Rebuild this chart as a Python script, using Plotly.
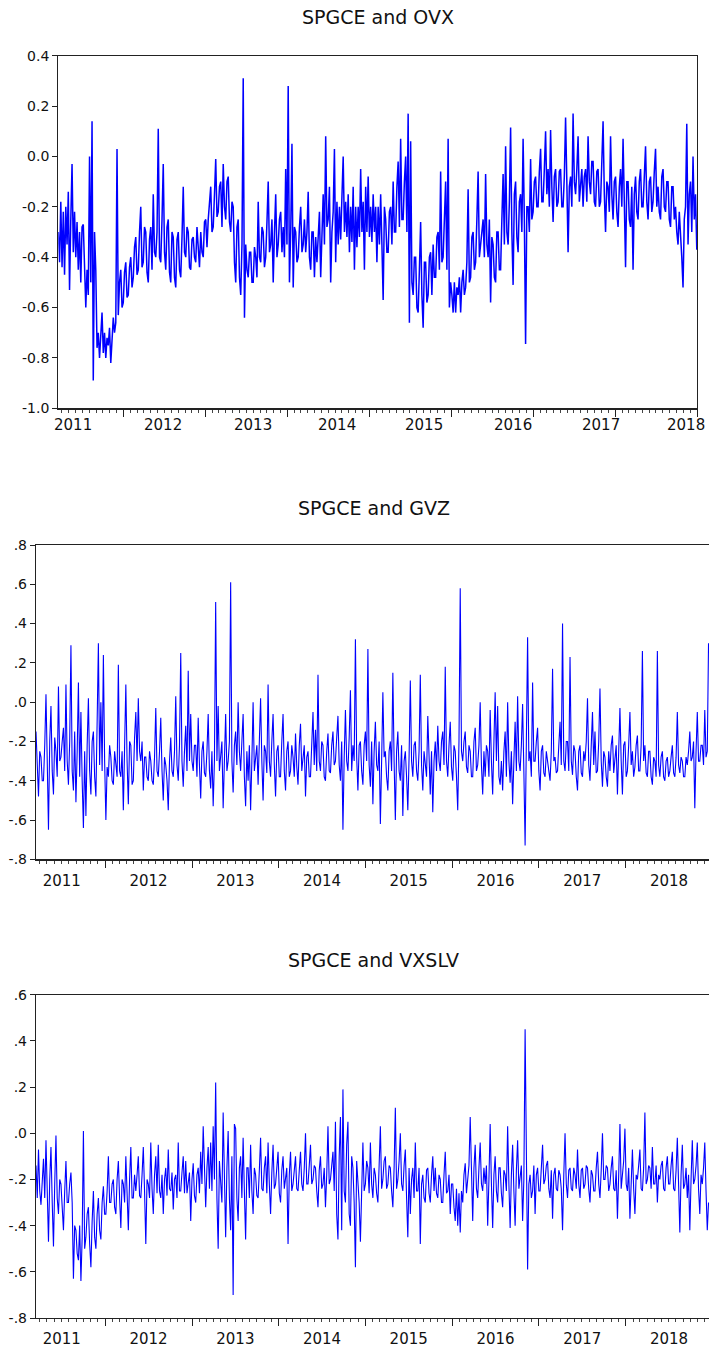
import pandas as pd
import plotly.graph_objects as go

# ---------------- data ----------------
START_DATE = "2011-03-16"
END_DATE_OVX = "2018-12-31"
END_DATE_GVZ_VXSLV = "2018-12-16"

OVX_VALUES = [
    -0.30, -0.42, -0.18, -0.44, -0.22, -0.47, -0.20, -0.35, -0.14, -0.53, -0.25, -0.03, -0.38, -0.22, -0.40, -0.26, -0.45, -0.30, -0.50, -0.28,
    -0.27, -0.48, -0.60, -0.45, -0.55, 0.00, -0.50, 0.14, -0.89, -0.30, -0.45, -0.76, -0.70, -0.80, -0.72, -0.62, -0.78, -0.70, -0.80, -0.72,
    -0.75, -0.68, -0.82, -0.72, -0.64, -0.70, -0.66, 0.03, -0.63, -0.50, -0.45, -0.60, -0.58, -0.46, -0.42, -0.56, -0.55, -0.44, -0.40, -0.52,
    -0.48, -0.36, -0.32, -0.47, -0.45, -0.30, -0.20, -0.44, -0.42, -0.28, -0.30, -0.46, -0.50, -0.33, -0.28, -0.45, -0.15, -0.38, -0.40, -0.30,
    0.11, -0.40, -0.42, -0.25, -0.03, -0.38, -0.45, -0.28, -0.25, -0.46, -0.50, -0.30, -0.32, -0.48, -0.52, -0.33, -0.30, -0.45, -0.48, -0.32,
    -0.12, -0.38, -0.40, -0.28, -0.30, -0.44, -0.45, -0.33, -0.32, -0.40, -0.42, -0.28, -0.35, -0.44, -0.30, -0.38, -0.40, -0.26, -0.25, -0.36,
    -0.25, -0.18, -0.12, -0.30, -0.28, -0.15, -0.01, -0.24, -0.22, -0.12, -0.10, -0.28, -0.03, -0.20, -0.25, -0.10, -0.08, -0.26, -0.30, -0.18,
    -0.20, -0.42, -0.50, -0.28, -0.25, -0.48, -0.55, -0.35, 0.31, -0.64, -0.35, -0.45, -0.48, -0.38, -0.38, -0.50, -0.50, -0.36, -0.40, -0.48,
    -0.18, -0.40, -0.42, -0.28, -0.30, -0.44, -0.40, -0.26, -0.10, -0.38, -0.35, -0.25, -0.50, -0.30, -0.15, -0.40, -0.35, -0.25, -0.22, -0.38,
    -0.28, -0.40, -0.05, -0.35, 0.28, -0.50, -0.30, 0.05, -0.52, -0.28, -0.30, -0.42, -0.40, -0.28, -0.20, -0.38, -0.35, -0.25, -0.38, -0.30,
    -0.14, -0.40, -0.45, -0.30, -0.30, -0.48, -0.32, -0.42, -0.32, -0.22, -0.48, -0.30, -0.15, -0.35, 0.08, -0.28, -0.25, -0.12, -0.50, -0.30,
    -0.22, 0.03, -0.42, -0.18, -0.35, -0.20, -0.33, -0.16, 0.00, -0.30, -0.18, -0.32, -0.15, -0.38, -0.20, -0.34, -0.12, -0.45, -0.20, -0.36,
    -0.20, -0.32, -0.05, -0.30, -0.18, -0.45, -0.12, -0.30, -0.08, -0.32, -0.20, -0.34, -0.15, -0.30, -0.20, -0.42, -0.20, -0.35, -0.15, -0.35,
    -0.57, -0.20, -0.25, -0.38, -0.38, -0.22, -0.20, -0.35, -0.10, -0.30, -0.30, -0.12, -0.02, -0.28, 0.07, -0.25, -0.25, -0.10, 0.00, -0.30,
    0.17, -0.66, 0.06, -0.50, -0.55, -0.40, -0.40, -0.60, -0.62, -0.45, -0.26, -0.55, -0.68, -0.42, -0.42, -0.58, -0.55, -0.40, -0.38, -0.55,
    -0.35, -0.48, -0.48, -0.32, -0.30, -0.45, -0.06, -0.42, -0.40, -0.25, -0.10, -0.45, 0.07, -0.60, -0.50, -0.55, -0.62, -0.50, -0.62, -0.52,
    -0.55, -0.48, -0.62, -0.50, -0.45, -0.55, -0.52, -0.42, -0.13, -0.50, -0.48, -0.32, -0.30, -0.45, -0.42, -0.25, -0.06, -0.40, -0.35, -0.28,
    -0.25, -0.40, -0.07, -0.35, -0.40, -0.25, -0.58, -0.32, -0.35, -0.48, -0.50, -0.30, -0.30, -0.45, -0.45, -0.25, -0.07, -0.35, 0.04, -0.30,
    -0.35, -0.18, 0.115, -0.30, -0.51, -0.15, -0.10, -0.32, -0.38, -0.18, -0.15, -0.30, 0.07, -0.25, -0.745, -0.20, -0.20, -0.30, -0.01, -0.25,
    -0.22, -0.10, -0.08, -0.20, -0.20, -0.06, 0.03, -0.18, -0.18, -0.05, 0.10, -0.15, -0.05, -0.20, 0.105, -0.12, -0.26, -0.08, -0.05, -0.20,
    -0.18, -0.06, -0.05, -0.20, -0.20, -0.08, 0.155, -0.10, -0.38, -0.12, -0.08, -0.20, 0.17, -0.10, -0.15, -0.05, 0.08, -0.18, -0.12, -0.05,
    -0.20, -0.08, -0.05, -0.18, 0.08, -0.10, -0.15, -0.02, -0.02, -0.18, -0.20, -0.06, -0.05, -0.20, -0.18, -0.05, 0.14, -0.15, -0.30, -0.10,
    -0.12, -0.22, 0.08, -0.15, -0.25, -0.10, -0.08, -0.22, -0.28, -0.12, -0.05, -0.20, 0.07, -0.18, -0.44, -0.10, -0.10, -0.25, -0.28, -0.12,
    -0.45, -0.15, -0.08, -0.22, -0.25, -0.10, -0.05, -0.20, -0.20, -0.08, 0.04, -0.18, -0.25, -0.10, -0.08, -0.22, -0.18, -0.06, 0.03, -0.20,
    -0.12, -0.22, -0.25, -0.08, -0.05, -0.20, -0.22, -0.10, -0.10, -0.25, -0.28, -0.12, -0.12, -0.25, -0.20, -0.30, -0.35, -0.22, -0.30, -0.40,
    -0.52, -0.25, -0.20, 0.13, -0.35, -0.15, -0.10, -0.30, 0.00, -0.25, -0.15, -0.37,
]

GVZ_VALUES = [
    -0.15, -0.30, -0.48, -0.25, -0.28, -0.40, -0.40, -0.22, 0.04, -0.30, -0.65, -0.20, -0.02, -0.35, -0.47, -0.18, -0.25, -0.38, 0.08, -0.30,
    -0.28, -0.20, -0.13, -0.35, 0.09, -0.30, -0.42, -0.20, 0.29, -0.35, -0.45, -0.15, -0.51, -0.25, 0.10, -0.38, -0.05, -0.40, -0.64, -0.25,
    -0.58, -0.22, 0.02, -0.35, -0.47, -0.20, -0.15, -0.38, -0.48, -0.10, 0.30, -0.32, 0.00, -0.35, 0.24, -0.30, -0.60, -0.33, -0.38, -0.22,
    -0.28, -0.40, -0.42, -0.25, -0.30, -0.38, 0.19, -0.35, -0.38, -0.25, -0.55, -0.28, 0.09, -0.30, -0.52, -0.20, -0.22, -0.42, -0.40, -0.18,
    -0.05, -0.30, 0.02, -0.25, -0.30, -0.20, -0.45, -0.28, -0.28, -0.38, -0.40, -0.25, -0.30, -0.40, -0.42, -0.28, -0.03, -0.35, -0.38, -0.25,
    -0.08, -0.35, -0.50, -0.28, -0.32, -0.40, -0.55, -0.30, -0.18, -0.35, -0.38, -0.25, 0.03, -0.32, -0.40, -0.22, 0.25, -0.30, -0.43, -0.25,
    -0.12, -0.35, 0.16, -0.30, -0.06, -0.30, -0.35, -0.22, -0.22, -0.38, -0.08, -0.32, -0.49, -0.25, -0.20, -0.36, -0.38, -0.25, -0.06, -0.35,
    -0.44, -0.25, -0.53, -0.30, 0.51, -0.30, -0.02, -0.35, -0.28, -0.20, -0.54, -0.25, -0.06, -0.35, -0.30, -0.20, 0.61, -0.30, -0.46, -0.22,
    -0.15, -0.32, 0.00, -0.25, -0.35, -0.20, -0.06, -0.38, -0.53, -0.25, -0.40, -0.22, -0.55, -0.30, 0.00, -0.35, -0.30, -0.22, -0.42, -0.25,
    0.02, -0.30, -0.50, -0.22, -0.25, -0.36, 0.09, -0.30, -0.38, -0.20, -0.06, -0.32, -0.48, -0.25, -0.22, -0.38, -0.38, -0.20, -0.06, -0.35,
    -0.45, -0.25, -0.20, -0.38, -0.35, -0.22, -0.28, -0.38, -0.16, -0.33, -0.42, -0.22, -0.11, -0.35, -0.30, -0.22, -0.48, -0.28, -0.25, -0.38,
    -0.38, -0.22, -0.05, -0.32, -0.14, -0.35, 0.14, -0.30, -0.35, -0.20, -0.22, -0.38, -0.40, -0.25, -0.16, -0.35, -0.36, -0.22, -0.15, -0.32,
    -0.30, -0.18, -0.07, -0.32, -0.40, -0.20, -0.65, -0.28, -0.04, -0.30, -0.35, -0.18, 0.06, -0.35, -0.22, -0.30, 0.32, -0.28, -0.45, -0.22,
    -0.20, -0.35, -0.42, -0.22, -0.15, -0.30, 0.27, -0.32, -0.43, -0.20, -0.52, -0.25, -0.10, -0.32, -0.35, -0.20, -0.62, -0.30, 0.05, -0.28,
    -0.25, -0.38, -0.45, -0.25, -0.20, -0.35, 0.15, -0.30, -0.60, -0.25, -0.15, -0.35, -0.40, -0.22, -0.58, -0.30, -0.25, -0.38, -0.55, -0.28,
    0.11, -0.30, -0.38, -0.22, -0.20, -0.35, -0.40, -0.25, 0.14, -0.32, -0.45, -0.25, -0.30, -0.38, -0.07, -0.30, -0.47, -0.25, -0.56, -0.30,
    -0.20, -0.35, -0.12, -0.30, -0.35, -0.20, -0.15, -0.32, 0.18, -0.30, -0.38, -0.22, -0.10, -0.33, -0.40, -0.22, -0.25, -0.38, -0.55, -0.20,
    0.58, -0.25, -0.30, -0.20, -0.15, -0.33, -0.36, -0.22, -0.25, -0.38, -0.38, -0.20, -0.13, -0.35, -0.32, -0.22, 0.00, -0.32, -0.47, -0.25,
    -0.38, -0.22, -0.25, -0.38, -0.04, -0.30, -0.47, -0.20, 0.05, -0.30, -0.02, -0.38, -0.42, -0.30, -0.45, -0.25, -0.15, -0.38, 0.00, -0.30,
    -0.41, -0.25, -0.52, -0.30, -0.10, -0.35, 0.03, -0.30, -0.35, -0.22, -0.01, -0.35, -0.73, -0.20, 0.33, -0.30, -0.25, -0.38, 0.10, -0.30,
    -0.30, -0.20, -0.13, -0.35, -0.45, -0.25, -0.22, -0.36, -0.38, -0.25, -0.30, -0.38, -0.40, -0.25, 0.17, -0.30, -0.28, -0.36, -0.35, -0.22,
    -0.10, -0.32, 0.40, -0.30, -0.35, -0.20, -0.20, -0.35, 0.23, -0.30, -0.37, -0.22, -0.25, -0.38, -0.45, -0.25, -0.22, -0.36, -0.38, -0.25,
    -0.30, -0.20, 0.02, -0.32, -0.40, -0.22, -0.05, -0.32, -0.15, -0.36, -0.35, -0.20, 0.07, -0.30, -0.43, -0.25, -0.28, -0.38, -0.43, -0.25,
    -0.35, -0.22, -0.17, -0.36, -0.30, -0.22, -0.47, -0.25, -0.03, -0.30, -0.47, -0.22, -0.20, -0.38, -0.35, -0.22, -0.05, -0.32, -0.25, -0.38,
    -0.33, -0.22, -0.17, -0.35, -0.35, -0.22, 0.26, -0.30, -0.22, -0.36, -0.38, -0.25, -0.25, -0.38, -0.42, -0.28, -0.30, -0.38, 0.26, -0.32,
    -0.38, -0.28, -0.25, -0.38, -0.40, -0.30, -0.28, -0.38, -0.35, -0.28, -0.22, -0.36, -0.38, -0.28, -0.05, -0.32, -0.36, -0.28, -0.30, -0.38,
    -0.38, -0.28, -0.32, -0.25, -0.15, -0.30, -0.28, -0.20, -0.54, -0.25, -0.05, -0.30, -0.30, -0.22, -0.22, -0.32, -0.04, -0.28, -0.25, 0.30,
]

VXSLV_VALUES = [
    -0.14, -0.28, -0.07, -0.25, -0.31, -0.18, -0.11, -0.28, -0.03, -0.25, -0.47, -0.20, -0.06, -0.30, -0.49, -0.22, -0.01, -0.28, -0.35, -0.20,
    -0.22, -0.32, -0.42, -0.25, -0.12, -0.30, -0.30, -0.22, -0.17, -0.30, -0.63, -0.40, -0.42, -0.52, -0.55, -0.40, -0.64, -0.45, 0.01, -0.50,
    -0.45, -0.35, -0.32, -0.48, -0.58, -0.38, -0.25, -0.45, -0.50, -0.35, -0.28, -0.42, -0.46, -0.30, -0.23, -0.35, -0.35, -0.25, -0.10, -0.30,
    -0.30, -0.22, -0.20, -0.32, -0.35, -0.20, -0.12, -0.28, -0.41, -0.20, -0.22, -0.30, -0.10, -0.26, -0.42, -0.20, -0.06, -0.28, -0.28, -0.18,
    -0.25, -0.18, -0.10, -0.27, -0.28, -0.18, -0.06, -0.25, -0.48, -0.20, -0.22, -0.28, -0.04, -0.24, -0.35, -0.18, -0.10, -0.26, -0.05, -0.25,
    -0.28, -0.18, -0.35, -0.20, -0.15, -0.27, -0.07, -0.24, -0.25, -0.17, -0.33, -0.20, -0.18, -0.28, -0.04, -0.25, -0.25, -0.17, -0.10, -0.26,
    -0.12, -0.26, -0.22, -0.17, -0.38, -0.20, -0.13, -0.27, -0.30, -0.18, -0.15, -0.26, -0.08, -0.22, 0.03, -0.20, -0.32, -0.15, -0.06, -0.24,
    -0.04, -0.25, 0.03, -0.20, 0.22, -0.28, -0.50, -0.12, -0.20, -0.30, 0.09, -0.25, -0.45, -0.15, 0.01, -0.28, -0.42, -0.10, -0.70, 0.04,
    0.02, -0.28, -0.38, -0.15, -0.10, -0.28, -0.02, -0.25, -0.46, -0.15, -0.15, -0.28, -0.05, -0.25, -0.35, -0.15, -0.18, -0.27, -0.28, -0.16,
    -0.02, -0.24, -0.25, -0.15, -0.10, -0.26, -0.04, -0.22, -0.35, -0.17, -0.05, -0.24, -0.22, -0.15, -0.08, -0.26, -0.30, -0.16, -0.10, -0.24,
    -0.20, -0.15, -0.48, -0.18, -0.08, -0.25, -0.22, -0.15, -0.10, -0.24, -0.25, -0.16, -0.08, -0.22, -0.25, -0.15, 0.00, -0.22, -0.22, -0.14,
    -0.05, -0.22, -0.20, -0.14, -0.15, -0.25, -0.32, -0.16, -0.10, -0.24, -0.22, -0.15, -0.32, -0.18, 0.03, -0.22, -0.20, -0.14, -0.08, -0.25,
    0.05, -0.35, -0.46, -0.10, 0.07, -0.42, 0.19, -0.25, -0.30, -0.05, 0.05, -0.35, -0.40, -0.10, -0.15, -0.30, -0.58, -0.12, -0.20, -0.30,
    -0.47, -0.18, -0.04, -0.25, -0.22, -0.12, -0.15, -0.26, -0.04, -0.22, -0.28, -0.15, -0.18, -0.26, -0.30, -0.14, 0.03, -0.24, -0.20, -0.12,
    -0.10, -0.24, -0.22, -0.14, -0.15, -0.25, -0.32, -0.15, 0.11, -0.24, -0.20, -0.12, 0.00, -0.22, -0.25, -0.14, -0.07, -0.28, -0.45, -0.15,
    -0.35, -0.20, -0.15, -0.28, -0.04, -0.25, -0.25, -0.15, -0.48, -0.22, -0.18, -0.28, -0.30, -0.16, -0.15, -0.26, -0.30, -0.18, -0.10, -0.25,
    -0.15, -0.26, -0.28, -0.18, -0.20, -0.30, -0.30, -0.18, -0.08, -0.26, -0.25, -0.18, -0.35, -0.22, -0.22, -0.32, -0.38, -0.24, -0.40, -0.26,
    -0.43, -0.25, -0.30, -0.18, -0.13, -0.26, -0.20, -0.14, 0.07, -0.22, -0.38, -0.15, -0.05, -0.24, -0.28, -0.15, -0.04, -0.22, -0.25, -0.15,
    -0.22, -0.14, -0.40, -0.20, 0.04, -0.22, -0.41, -0.18, -0.10, -0.25, -0.30, -0.15, -0.15, -0.26, -0.32, -0.16, -0.18, -0.25, 0.03, -0.22,
    -0.41, -0.18, -0.05, -0.25, -0.40, -0.16, -0.03, -0.24, -0.20, -0.14, -0.38, -0.20, 0.45, -0.10, -0.59, -0.22, -0.18, -0.28, -0.25, -0.14,
    -0.35, -0.18, -0.15, -0.25, -0.25, -0.15, -0.05, -0.22, -0.20, -0.14, -0.12, -0.24, -0.28, -0.16, -0.37, -0.18, -0.15, -0.24, -0.25, -0.16,
    -0.18, -0.24, -0.42, -0.18, 0.00, -0.22, -0.28, -0.16, -0.15, -0.24, -0.25, -0.15, -0.18, -0.24, -0.07, -0.22, -0.28, -0.16, -0.15, -0.24,
    -0.22, -0.14, -0.15, -0.24, -0.30, -0.16, -0.18, -0.25, -0.25, -0.15, -0.08, -0.22, -0.28, -0.16, 0.00, -0.20, -0.20, -0.14, -0.15, -0.25,
    -0.22, -0.15, -0.10, -0.24, -0.25, -0.16, -0.37, -0.18, 0.04, -0.24, -0.18, -0.12, 0.02, -0.22, -0.25, -0.15, -0.37, -0.18, -0.07, -0.24,
    -0.35, -0.18, -0.20, -0.14, -0.07, -0.24, -0.25, -0.15, 0.09, -0.22, -0.20, -0.14, -0.15, -0.24, -0.06, -0.22, -0.22, -0.14, -0.30, -0.18,
    -0.20, -0.14, -0.12, -0.24, -0.25, -0.15, -0.10, -0.22, -0.22, -0.14, -0.08, -0.24, -0.25, -0.16, -0.02, -0.22, -0.43, -0.18, -0.05, -0.24,
    -0.22, -0.15, -0.28, -0.18, -0.42, -0.20, -0.03, -0.22, -0.20, -0.14, -0.04, -0.24, -0.35, -0.18, -0.22, -0.15, -0.04, -0.25, -0.42, -0.30,
]

TITLES = ["SPGCE and OVX", "SPGCE and GVZ", "SPGCE and VXSLV"]
YEAR_LABELS = ["2011", "2012", "2013", "2014", "2015", "2016", "2017", "2018"]

Y1_TICKVALS = [0.4, 0.2, 0.0, -0.2, -0.4, -0.6, -0.8, -1.0]
Y1_TICKTEXT = ["0.4", "0.2", "0.0", "-0.2", "-0.4", "-0.6", "-0.8", "-1.0"]
Y2_TICKVALS = [0.8, 0.6, 0.4, 0.2, 0.0, -0.2, -0.4, -0.6, -0.8]
Y2_TICKTEXT = [".8", ".6", ".4", ".2", ".0", "-.2", "-.4", "-.6", "-.8"]
Y3_TICKVALS = [0.6, 0.4, 0.2, 0.0, -0.2, -0.4, -0.6, -0.8]
Y3_TICKTEXT = [".6", ".4", ".2", ".0", "-.2", "-.4", "-.6", "-.8"]

# ---------------- layout geometry (pixels) ----------------
W, H = 709, 1348
FONT = "DejaVu Sans, Liberation Sans, Arial, sans-serif"
BLUE = "#0000FF"


def fx(p):
    return p / W


def fy(p):
    return 1 - p / H


dates_ovx = pd.date_range(START_DATE, END_DATE_OVX, periods=len(OVX_VALUES))
dates_gvz = pd.date_range(START_DATE, END_DATE_GVZ_VXSLV, periods=len(GVZ_VALUES))
dates_vxslv = pd.date_range(START_DATE, END_DATE_GVZ_VXSLV, periods=len(VXSLV_VALUES))

fig = go.Figure()
fig.add_trace(go.Scatter(x=dates_ovx, y=OVX_VALUES, mode="lines",
                         line=dict(color=BLUE, width=1.5), xaxis="x", yaxis="y",
                         showlegend=False, hoverinfo="skip"))
fig.add_trace(go.Scatter(x=dates_gvz, y=GVZ_VALUES, mode="lines",
                         line=dict(color=BLUE, width=1.1), xaxis="x2", yaxis="y2",
                         showlegend=False, hoverinfo="skip"))
fig.add_trace(go.Scatter(x=dates_vxslv, y=VXSLV_VALUES, mode="lines",
                         line=dict(color=BLUE, width=1.1), xaxis="x3", yaxis="y3",
                         showlegend=False, hoverinfo="skip"))

tick_font = dict(family=FONT, size=14, color="#111111")
year_font = dict(family=FONT, size=15, color="#111111")


def xaxis_common(domain, rng, anchor, labels):
    d = dict(
        domain=domain, range=rng, anchor=anchor, type="date",
        showline=True, linecolor="#222222", linewidth=1.2,
        showgrid=False, zeroline=False,
        ticks="outside", ticklen=7, tickwidth=1, tickcolor="#222222",
        dtick="M12", tick0="2011-01-01",
        minor=dict(dtick="M1", ticks="outside", ticklen=3, tickwidth=1,
                   tickcolor="#444444", showgrid=False),
        tickfont=year_font, automargin=False, fixedrange=True,
    )
    if labels:
        d.update(showticklabels=True, ticklabelmode="period", tickformat="%Y")
    else:
        d.update(showticklabels=False)
    return d


def yaxis_common(domain, rng, anchor, tv, tt):
    return dict(
        domain=domain, range=rng, anchor=anchor,
        showline=True, linecolor="#222222", linewidth=1.2,
        showgrid=False, zeroline=False,
        ticks="outside", ticklen=5, tickwidth=1, tickcolor="#222222",
        tickvals=tv, ticktext=tt, tickfont=tick_font,
        automargin=False, fixedrange=True,
    )


x1 = xaxis_common([fx(58.3), fx(697)], ["2011-03-16", "2019-01-01"], "y", False)
x1["mirror"] = True
y1 = yaxis_common([fy(408.3), fy(55.7)], [-1.0, 0.4], "x", Y1_TICKVALS, Y1_TICKTEXT)
y1["mirror"] = True

x2 = xaxis_common([fx(36), 1.0], ["2011-03-16", "2018-12-18"], "y2", True)
x2["mirror"] = True
y2 = yaxis_common([fy(859.3), fy(545)], [-0.8, 0.8], "x2", Y2_TICKVALS, Y2_TICKTEXT)

x3 = xaxis_common([fx(36), 1.0], ["2011-03-16", "2018-12-18"], "y3", True)
x3["mirror"] = True
y3 = yaxis_common([fy(1318), fy(994.7)], [-0.8, 0.6], "x3", Y3_TICKVALS, Y3_TICKTEXT)

annotations = []
title_pos = [(378, 17), (374, 508), (374, 960)]
for t, (px, py) in zip(TITLES, title_pos):
    annotations.append(dict(text=t, x=fx(px), y=fy(py), xref="paper", yref="paper",
                            xanchor="center", yanchor="middle", showarrow=False,
                            font=dict(family=FONT, size=19, color="#111111")))

# year labels of the first panel (placed as in the reference)
PANEL1_LABEL_X = [73, 163, 253, 337, 424, 513, 601, 686]
for lab, px in zip(YEAR_LABELS, PANEL1_LABEL_X):
    annotations.append(dict(text=lab, x=fx(px), y=fy(425), xref="paper", yref="paper",
                            xanchor="center", yanchor="middle", showarrow=False,
                            font=year_font))

fig.update_layout(
    width=W, height=H,
    margin=dict(l=0, r=0, t=0, b=0),
    paper_bgcolor="white", plot_bgcolor="white",
    xaxis=x1, yaxis=y1, xaxis2=x2, yaxis2=y2, xaxis3=x3, yaxis3=y3,
    annotations=annotations,
    showlegend=False,
)

fig.write_html("out.html",
               config={"displayModeBar": False, "staticPlot": True},
               post_script="document.body.style.margin='0px';document.body.style.overflow='hidden';")
